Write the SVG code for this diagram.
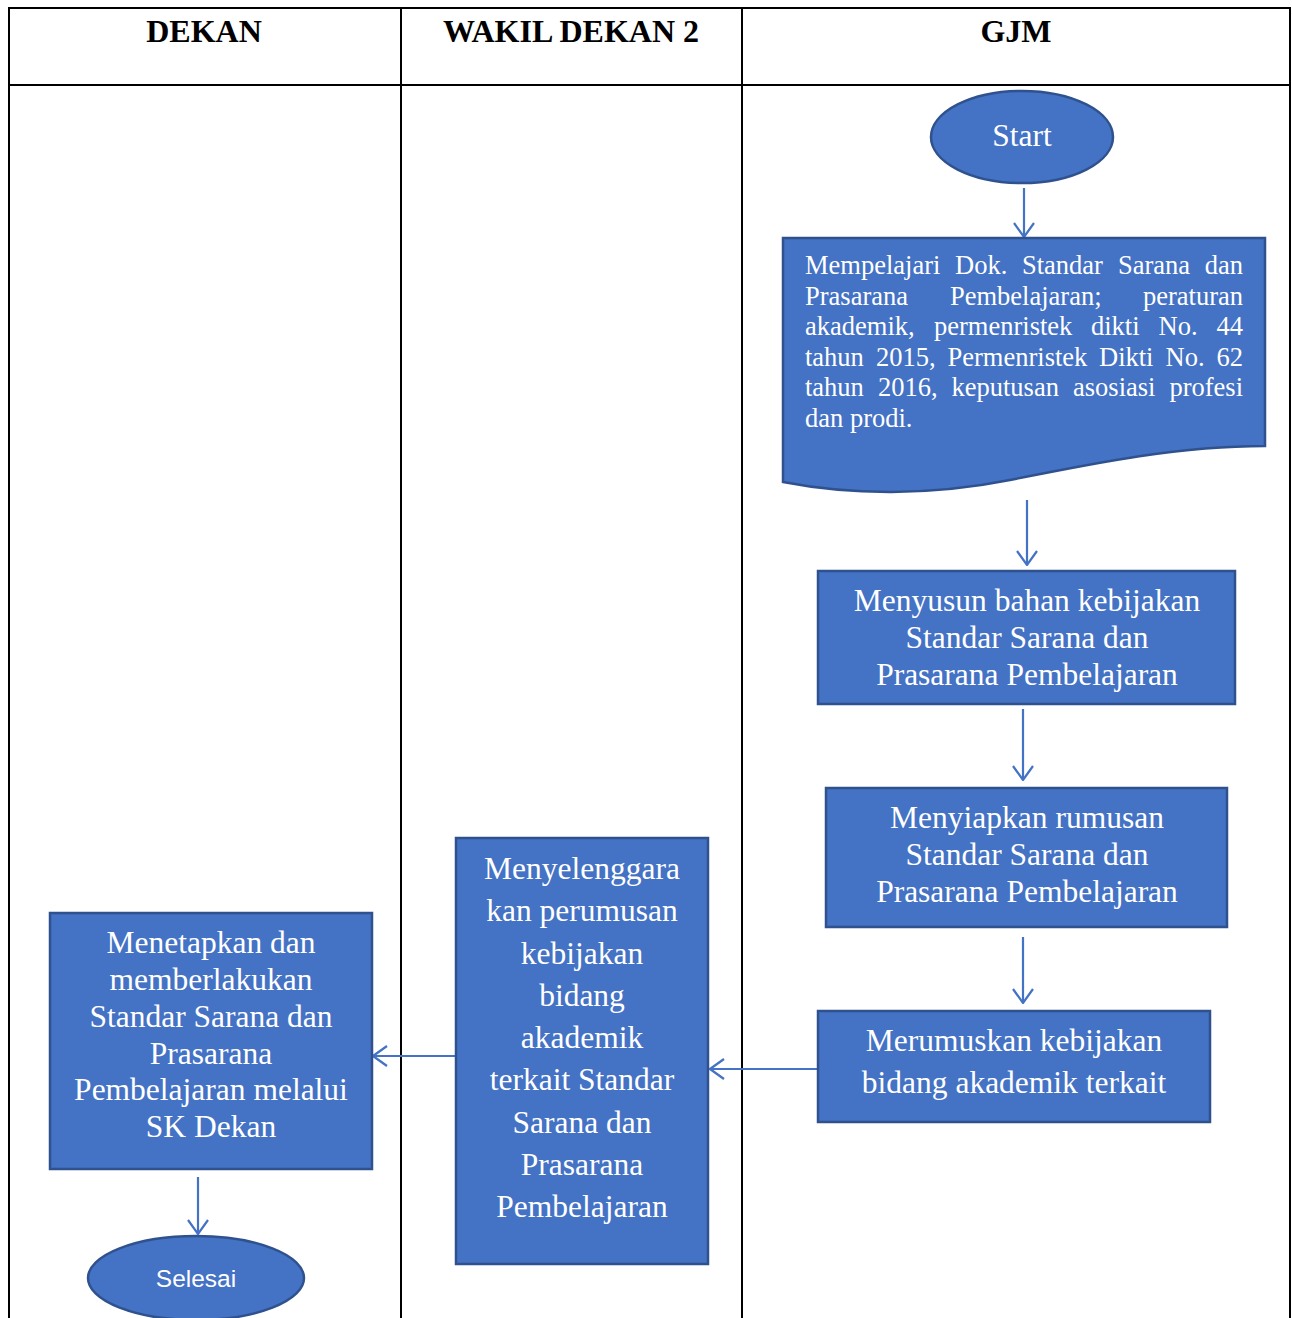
<svg xmlns="http://www.w3.org/2000/svg" width="1292" height="1318" viewBox="0 0 1292 1318">
<style>
.grid{stroke:#000;stroke-width:2;fill:none}
.hdr{font-family:"Liberation Serif",serif;font-weight:bold;font-size:32px;text-anchor:middle;fill:#000}
.shape{fill:#4472C4;stroke:#2F528F;stroke-width:2.5}
.t{font-family:"Liberation Serif",serif;font-size:31.5px;fill:#fff;text-anchor:middle}
.doc{font-family:"Liberation Serif",serif;font-size:26.5px;fill:#fff}
.e{text-anchor:end}
.sans{font-family:"Liberation Sans",sans-serif;font-size:24.5px;fill:#fff;text-anchor:middle}
.conn{stroke:#4472C4;stroke-width:2.2;fill:none;marker-end:url(#arr)}
</style>
<defs>
<marker id="arr" viewBox="0 0 16 22" refX="15" refY="11" markerWidth="16" markerHeight="22" markerUnits="userSpaceOnUse" orient="auto">
<path d="M1,1 L15,11 L1,21" fill="none" stroke="#4472C4" stroke-width="2.2"/>
</marker>
</defs>
<rect width="1292" height="1318" fill="#fff"/>
<g id="table">
<path class="grid" d="M9,1318 V8 H1290 V1318 M401,8 V1318 M742,8 V1318 M9,85 H1290"/>
<text class="hdr" x="204" y="42">DEKAN</text>
<text class="hdr" x="571" y="42">WAKIL DEKAN 2</text>
<text class="hdr" x="1016" y="42">GJM</text>
</g>
<g id="connectors">
<line class="conn" x1="1024" y1="188" x2="1024" y2="237"/>
<line class="conn" x1="1027" y1="500" x2="1027" y2="565"/>
<line class="conn" x1="1023" y1="709" x2="1023" y2="780"/>
<line class="conn" x1="1023" y1="937" x2="1023" y2="1003"/>
<line class="conn" x1="818" y1="1069" x2="710" y2="1069"/>
<line class="conn" x1="456" y1="1056" x2="373" y2="1056"/>
<line class="conn" x1="198" y1="1177" x2="198" y2="1234"/>
</g>
<g id="start">
<ellipse class="shape" cx="1022" cy="137" rx="91" ry="46"/>
<text class="t" x="1022" y="146">Start</text>
</g>
<g id="mempelajari">
<path class="shape" d="M783,238 H1265 V446 C1180,446 1100,462 1010,480 C930,496 850,495 783,482 Z"/>
<text class="doc" y="274"><tspan x="805">Mempelajari</tspan><tspan x="955">Dok.</tspan><tspan x="1022">Standar</tspan><tspan x="1118">Sarana</tspan><tspan x="1243" class="e">dan</tspan></text>
<text class="doc" y="304.6"><tspan x="805">Prasarana</tspan><tspan x="950">Pembelajaran;</tspan><tspan x="1243" class="e">peraturan</tspan></text>
<text class="doc" y="335.2"><tspan x="805">akademik,</tspan><tspan x="934">permenristek</tspan><tspan x="1091">dikti</tspan><tspan x="1158.5">No.</tspan><tspan x="1243" class="e">44</tspan></text>
<text class="doc" y="365.8"><tspan x="805">tahun</tspan><tspan x="876">2015,</tspan><tspan x="947.5">Permenristek</tspan><tspan x="1099">Dikti</tspan><tspan x="1165.5">No.</tspan><tspan x="1243" class="e">62</tspan></text>
<text class="doc" y="396.4"><tspan x="805">tahun</tspan><tspan x="878">2016,</tspan><tspan x="951.5">keputusan</tspan><tspan x="1073">asosiasi</tspan><tspan x="1243" class="e">profesi</tspan></text>
<text class="doc" x="805" y="427">dan prodi.</text>
</g>
<g id="menyusun">
<rect class="shape" x="818" y="571" width="417" height="133"/>
<text class="t" x="1027" y="611">Menyusun bahan kebijakan</text>
<text class="t" x="1027" y="648">Standar Sarana dan</text>
<text class="t" x="1027" y="685">Prasarana Pembelajaran</text>
</g>
<g id="menyiapkan">
<rect class="shape" x="826" y="788" width="401" height="139"/>
<text class="t" x="1027" y="828">Menyiapkan rumusan</text>
<text class="t" x="1027" y="865">Standar Sarana dan</text>
<text class="t" x="1027" y="902">Prasarana Pembelajaran</text>
</g>
<g id="merumuskan">
<rect class="shape" x="818" y="1011" width="392" height="111"/>
<text class="t" x="1014" y="1051">Merumuskan kebijakan</text>
<text class="t" x="1014" y="1093">bidang akademik terkait</text>
</g>
<g id="menyelenggarakan">
<rect class="shape" x="456" y="838" width="252" height="426"/>
<text class="t" x="582" y="879">Menyelenggara</text>
<text class="t" x="582" y="921">kan perumusan</text>
<text class="t" x="582" y="964">kebijakan</text>
<text class="t" x="582" y="1006">bidang</text>
<text class="t" x="582" y="1048">akademik</text>
<text class="t" x="582" y="1090">terkait Standar</text>
<text class="t" x="582" y="1133">Sarana dan</text>
<text class="t" x="582" y="1175">Prasarana</text>
<text class="t" x="582" y="1217">Pembelajaran</text>
</g>
<g id="menetapkan">
<rect class="shape" x="50" y="913" width="322" height="256"/>
<text class="t" x="211" y="953">Menetapkan dan</text>
<text class="t" x="211" y="990">memberlakukan</text>
<text class="t" x="211" y="1027">Standar Sarana dan</text>
<text class="t" x="211" y="1064">Prasarana</text>
<text class="t" x="211" y="1100">Pembelajaran melalui</text>
<text class="t" x="211" y="1137">SK Dekan</text>
</g>
<g id="selesai">
<ellipse class="shape" cx="196" cy="1278" rx="108" ry="42"/>
<text class="sans" x="196" y="1287">Selesai</text>
</g>
</svg>
